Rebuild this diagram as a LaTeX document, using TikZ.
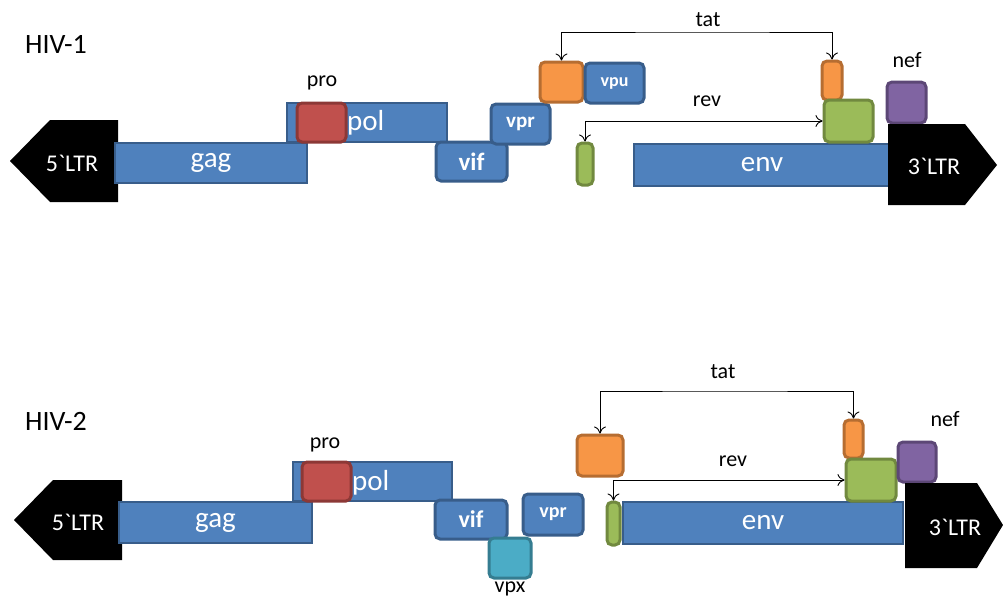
\documentclass[tikz,border=0pt]{standalone}
\usepackage{fontspec}
\setmainfont{Carlito}
\newfontfamily\ltrfont{Carlito}
\usetikzlibrary{arrows.meta}
\definecolor{geneblue}{HTML}{4F81BD}
\definecolor{genedark}{HTML}{385D8A}
\definecolor{prored}{HTML}{C0504D}
\definecolor{prodark}{HTML}{8C3836}
\definecolor{tatorange}{HTML}{F79646}
\definecolor{tatdark}{HTML}{B66D31}
\definecolor{revgreen}{HTML}{9BBB59}
\definecolor{revdark}{HTML}{71893F}
\definecolor{nefpurple}{HTML}{8064A2}
\definecolor{nefdark}{HTML}{5C4776}
\definecolor{vpxteal}{HTML}{4BACC6}
\definecolor{vpxdark}{HTML}{357D91}
\tikzset{
  gene/.style={draw=genedark, fill=geneblue, line width=1.8pt, inner sep=0pt, text=white, font=\fontsize{29}{31}\selectfont},
  genetxt/.style={text=white, inner sep=0pt, font=\fontsize{29}{31}\selectfont},
  exon/.style={rounded corners=5pt, line width=3pt, inner sep=0pt},
  accessory/.style={exon, draw=genedark, fill=geneblue, text=white},
  tatbox/.style={exon, draw=tatdark, fill=tatorange},
  revbox/.style={exon, draw=revdark, fill=revgreen},
  lbl/.style={inner sep=0pt, font=\fontsize{22}{24}\selectfont},
  title/.style={inner sep=0pt, font=\fontsize{28}{30}\selectfont},
  ltrtxt/.style={inner sep=0pt, text=white, font=\ltrfont\fontsize{24}{26}\selectfont},
  link/.style={{To[length=7pt,width=12pt]}-{To[length=7pt,width=12pt]}, line width=0.9pt}
}
\begin{document}
\begin{tikzpicture}[x=1pt, y=-1pt]
\useasboundingbox (0,0) rectangle (1003,597);

\node[title] (hiv1) at (56,44) {HIV-1};
\fill[black] (10,161) -- (50,120) -- (118,120) -- (118,202) -- (50,202) -- cycle;
\node[ltrtxt] (ltr5a) at (72,163) {5`LTR};
\node[gene, minimum width=160pt, minimum height=39pt] (pol1) at (367,122.5) {};
\node[gene, minimum width=192pt, minimum height=40pt] (gag1) at (211,163) {gag};
\node[exon, draw=prodark, fill=prored, minimum width=49pt, minimum height=39pt] (pro1) at (321.5,122.5) {};
\node[genetxt, anchor=west] (poltxt1) at (347,123) {pol};
\node[lbl] (prolbl1) at (322,83) {pro};
\node[accessory, minimum width=71pt, minimum height=39pt, font=\bfseries\fontsize{25}{27}\selectfont] (vif1) at (471.5,161.5) {vif};
\node[accessory, minimum width=59pt, minimum height=40pt, font=\bfseries\fontsize{21}{23}\selectfont] (vpr1) at (520.5,124) {vpr};
\node[tatbox, minimum width=43pt, minimum height=40pt] (tatA1) at (561.5,82) {};
\node[accessory, minimum width=59pt, minimum height=40pt, font=\bfseries\fontsize{18}{20}\selectfont] (vpu1) at (614.5,83) {vpu};
\node[revbox, minimum width=16pt, minimum height=42pt] (revA1) at (585,164) {};
\node[gene, minimum width=256pt, minimum height=42pt] (env1) at (762,165) {env};
\node[tatbox, minimum width=20pt, minimum height=39pt] (tatB1) at (832,80.5) {};
\node[revbox, minimum width=49pt, minimum height=42pt] (revB1) at (848.5,121) {};
\node[exon, draw=nefdark, fill=nefpurple, minimum width=39pt, minimum height=41pt] (nef1) at (906.5,102.5) {};
\node[lbl] (neflbl1) at (907,60) {nef};
\fill[black] (888,124) -- (965,124) -- (997,165) -- (965,205) -- (888,205) -- cycle;
\node[ltrtxt] (ltr3a) at (934,166) {3`LTR};
\coordinate (tattop1) at (708,32);
\draw[link] (tatA1.north) |- (tattop1) -| (tatB1.north);
\node[lbl] (tatlbl1) at (708,20) {tat};
\draw[link] (revA1.north) |- (revB1.west);
\node[lbl] (revlbl1) at (707,101) {rev};

\node[title] (hiv2) at (56,421) {HIV-2};
\fill[black] (14,520) -- (53,480) -- (122,480) -- (122,560) -- (53,560) -- cycle;
\node[ltrtxt] (ltr5b) at (78,522) {5`LTR};
\node[gene, minimum width=159pt, minimum height=39pt] (pol2) at (372.5,481.5) {};
\node[gene, minimum width=193pt, minimum height=41pt] (gag2) at (215.5,522.5) {gag};
\node[exon, draw=prodark, fill=prored, minimum width=49pt, minimum height=39pt] (pro2) at (326.5,481.5) {};
\node[genetxt, anchor=west] (poltxt2) at (352,483) {pol};
\node[lbl] (prolbl2) at (325,445) {pro};
\node[accessory, minimum width=72pt, minimum height=39pt, font=\bfseries\fontsize{24}{26}\selectfont] (vif2) at (471,519.5) {vif};
\node[exon, draw=vpxdark, fill=vpxteal, minimum width=42pt, minimum height=40pt] (vpx2) at (510,558) {};
\node[lbl] (vpxlbl2) at (510,589) {vpx};
\node[accessory, minimum width=60pt, minimum height=41pt, font=\bfseries\fontsize{20}{22}\selectfont] (vpr2) at (553,514.5) {vpr};
\node[tatbox, minimum width=46pt, minimum height=41pt] (tatA2) at (600,455.5) {};
\node[revbox, minimum width=13pt, minimum height=43pt] (revA2) at (613.5,523.5) {};
\node[gene, minimum width=280pt, minimum height=42pt] (env2) at (763,523) {env};
\node[tatbox, minimum width=19pt, minimum height=38pt] (tatB2) at (853.5,439) {};
\node[revbox, minimum width=50pt, minimum height=42pt] (revB2) at (871,480) {};
\node[exon, draw=nefdark, fill=nefpurple, minimum width=38pt, minimum height=40pt] (nef2) at (917,462) {};
\node[lbl] (neflbl2) at (945,419) {nef};
\fill[black] (905,483) -- (977,483) -- (1003,525) -- (977,568) -- (905,568) -- cycle;
\node[ltrtxt] (ltr3b) at (955,527) {3`LTR};
\coordinate (tattop2) at (723,391);
\draw[link] (tatA2.north) |- (tattop2) -| (tatB2.north);
\node[lbl] (tatlbl2) at (723,372) {tat};
\draw[link] (revA2.north) |- (revB2.west);
\node[lbl] (revlbl2) at (733,461) {rev};
\end{tikzpicture}
\end{document}
